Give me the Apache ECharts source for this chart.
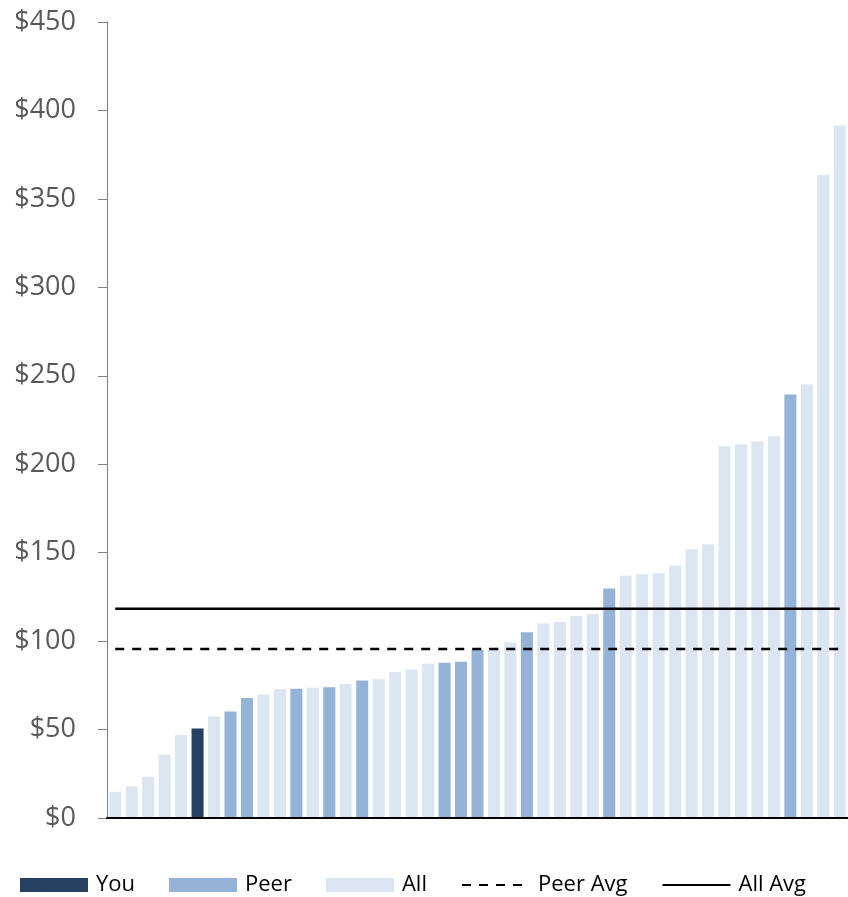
<!DOCTYPE html>
<html>
<head>
<meta charset="utf-8">
<script src="https://cdn.jsdelivr.net/npm/echarts@6/dist/echarts.min.js"></script>
<style>
  html, body { margin: 0; padding: 0; background: #ffffff; }
  #chart { width: 848px; height: 897px; }
</style>
</head>
<body>
<div id="chart"></div>
<script>
// Cost per participant, sorted ascending; one bar per organisation
const categories = [
  '1','2','3','4','5','6','7','8','9','10','11','12','13','14','15',
  '16','17','18','19','20','21','22','23','24','25','26','27','28','29','30',
  '31','32','33','34','35','36','37','38','39','40','41','42','43','44','45'
];
const values = [
  14.8, 17.8, 23.3, 35.8, 46.9, 50.6, 57.4, 60.2, 67.9, 69.8,
  72.8, 73.1, 73.7, 73.9, 75.8, 77.8, 78.4, 82.5, 84.0, 87.2,
  87.7, 88.3, 95.1, 96.2, 99.2, 105.0, 109.9, 110.8, 114.2, 115.3,
  129.7, 136.9, 137.8, 138.4, 142.7, 152.0, 154.8, 210.2, 211.1, 212.8,
  215.8, 239.4, 245.2, 363.5, 391.5
];
// Group of each bar: 'you', 'peer' or 'all'
const groups = [
  'all','all','all','all','all','you','all','peer','peer','all',
  'all','peer','all','peer','all','peer','all','all','all','all',
  'peer','peer','peer','all','all','peer','all','all','all','all',
  'peer','all','all','all','all','all','all','all','all','all',
  'all','peer','all','all','all'
];
const peerAvg = 95.6;
const allAvg = 118.3;
const yTicks = { min: 0, max: 450, interval: 50 };

const colors = { you: '#264061', peer: '#95B3D7', all: '#DCE6F2' };

function groupData(g) {
  return values.map((v, i) => (groups[i] === g ? v : null));
}

const chart = echarts.init(document.getElementById('chart'), null, { renderer: 'canvas' });

const barBase = {
  type: 'bar',
  stack: 'cost',
  barCategoryGap: '27%',
  emphasis: { disabled: true }
};

chart.setOption({
  animation: false,
  textStyle: { fontFamily: 'Open Sans' },
  grid: { left: 107, right: 0, top: 22, height: 796 },
  legend: {
    left: 15,
    top: 869,
    itemWidth: 68,
    itemHeight: 14,
    itemGap: 34,
    textStyle: { fontFamily: 'Open Sans', fontSize: 22, color: '#000000', padding: [0, 0, 0, 3] },
    data: [
      { name: 'You', icon: 'rect' },
      { name: 'Peer', icon: 'rect' },
      { name: 'All', icon: 'rect' },
      // line-only keys: hide the marker symbol, keep the stroke
      { name: 'Peer Avg', itemStyle: { opacity: 0 } },
      { name: 'All Avg', itemStyle: { opacity: 0 } }
    ]
  },
  xAxis: {
    type: 'category',
    data: categories,
    boundaryGap: true,
    z: 10,
    axisLine: { show: true, lineStyle: { color: '#000000', width: 2 } },
    axisTick: { show: false },
    axisLabel: { show: false },
    splitLine: { show: false }
  },
  yAxis: {
    type: 'value',
    min: yTicks.min,
    max: yTicks.max,
    interval: yTicks.interval,
    axisLine: { show: true, lineStyle: { color: '#7F7F7F', width: 1 } },
    axisTick: { show: true, length: 9, lineStyle: { color: '#7F7F7F', width: 1 } },
    splitLine: { show: false },
    axisLabel: {
      margin: 31,
      fontFamily: 'Open Sans',
      fontSize: 27,
      color: '#595959',
      formatter: v => '$' + v
    }
  },
  series: [
    Object.assign({}, barBase, { name: 'You', data: groupData('you'), itemStyle: { color: colors.you } }),
    Object.assign({}, barBase, { name: 'Peer', data: groupData('peer'), itemStyle: { color: colors.peer } }),
    Object.assign({}, barBase, { name: 'All', data: groupData('all'), itemStyle: { color: colors.all } }),
    {
      name: 'Peer Avg',
      type: 'line',
      z: 5,
      symbol: 'none',
      itemStyle: { color: '#000000' },
      lineStyle: { color: '#000000', width: 2.5, type: [9, 8] },
      data: [[categories[0], peerAvg], [categories[categories.length - 1], peerAvg]]
    },
    {
      name: 'All Avg',
      type: 'line',
      z: 5,
      symbol: 'none',
      itemStyle: { color: '#000000' },
      lineStyle: { color: '#000000', width: 2.5 },
      data: [[categories[0], allAvg], [categories[categories.length - 1], allAvg]]
    }
  ]
});
</script>
</body>
</html>
